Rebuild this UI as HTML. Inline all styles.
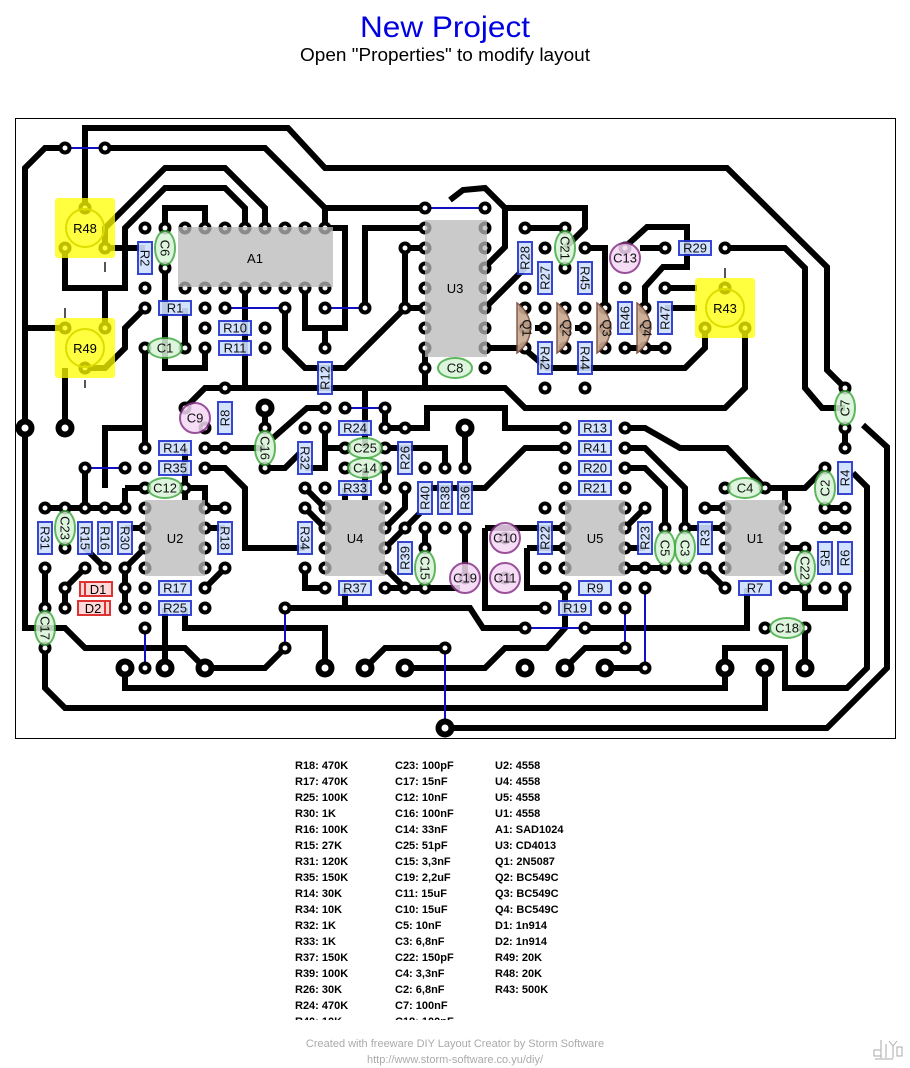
<!DOCTYPE html>
<html><head><meta charset="utf-8"><style>
html,body{margin:0;padding:0;background:#fff;width:910px;height:1068px;overflow:hidden}
svg{display:block}
.t{font-family:"Liberation Sans",sans-serif}
.b{font-family:"Liberation Sans",sans-serif;font-weight:bold;font-size:11px;fill:#000}
.tr{fill:none;stroke:#000;stroke-width:6;stroke-linejoin:miter}
.j{stroke:#1010c0;stroke-width:2}
.r rect{fill:#cfe0ff;stroke:#2233cc;stroke-width:2;opacity:.9}
.r text,.c text,.e text,.q text{font-family:"Liberation Sans",sans-serif;font-size:13px;fill:#111;text-anchor:middle;dominant-baseline:central}
.c ellipse{fill:#d8f4d8;stroke:#44aa44;stroke-width:2;opacity:.85}
.e circle{fill:#f4d8f4;stroke:#883388;stroke-width:2;opacity:.85}
.ic{fill:#b8b8b8;opacity:.75}
.pot{fill:#ffff00;opacity:.75}
.q path{fill:#c8a890;stroke:#7a4a3a;stroke-width:1.5;opacity:.9}
.ld{stroke:#555;stroke-width:2}
</style></head><body>
<svg width="910" height="1068" viewBox="0 0 910 1068" xmlns="http://www.w3.org/2000/svg">
<defs>
<g id="p"><circle r="6.5" fill="#000"/><circle r="2.5" fill="#fff"/></g>
<g id="P"><circle r="9.5" fill="#000"/><circle r="3.5" fill="#fff"/></g>
</defs>
<text x="445" y="37" class="t" font-size="30" fill="#0000e0" text-anchor="middle" textLength="170" lengthAdjust="spacingAndGlyphs">New Project</text>
<text x="445" y="61" class="t" font-size="18" fill="#000" text-anchor="middle" textLength="290" lengthAdjust="spacingAndGlyphs">Open "Properties" to modify layout</text>
<rect x="15.5" y="118.5" width="880" height="620" fill="#fff" stroke="#000" stroke-width="1"/>

<!-- traces -->
<g class="tr">
<polyline points="85,208 85,128 288,128 325,168 727,168 827,267 827,370 845,388"/>
<polyline points="65,148 45,148 25,168 25,428"/>
<polyline points="105,148 265,148 325,208 325,228"/>
<polyline points="325,208 425,208"/>
<polyline points="265,228 265,208 225,168 165,168 105,228 105,248"/>
<polyline points="245,228 245,208 225,188 165,188 125,228 125,288 65,288 65,248"/>
<polyline points="105,288 105,328"/>
<polyline points="105,248 145,248"/>
<polyline points="165,228 165,208 205,208 205,228"/>
<polyline points="325,228 345,228 345,328 305,328 305,288"/>
<polyline points="325,328 325,348"/>
<polyline points="285,308 285,348 305,368 345,368 405,308 425,308"/>
<polyline points="365,308 365,228 425,228"/>
<polyline points="405,248 425,248"/>
<polyline points="405,248 405,308"/>
<polyline points="165,268 165,368 205,368 205,348"/>
<polyline points="185,308 185,348"/>
<polyline points="145,308 125,328 125,348 105,368 85,368"/>
<polyline points="25,328 65,328"/>
<polyline points="65,368 65,428"/>
<polyline points="185,408 205,388 505,388 525,408 725,408 745,388 745,328"/>
<polyline points="245,288 245,388"/>
<polyline points="365,388 365,448"/>
<polyline points="425,348 425,388"/>
<polyline points="145,348 145,448"/>
<polyline points="105,488 105,428 145,428"/>
<polyline points="450,200 463,190 485,188 505,208 505,247 485,267"/>
<polyline points="505,208 585,208 585,228 565,248"/>
<polyline points="485,308 525,268"/>
<polyline points="485,348 520,348"/>
<polyline points="525,228 565,228"/>
<polyline points="585,248 605,248 605,303"/>
<polyline points="625,247 647,227 687,227 687,267 663,267 645,287 645,303"/>
<polyline points="640,248 665,248"/>
<polyline points="725,248 785,248 805,268 805,388 822,408 845,408"/>
<polyline points="665,288 697,288"/>
<polyline points="665,308 697,308"/>
<polyline points="535,328 545,328"/>
<polyline points="575,328 585,328"/>
<polyline points="528,352 547,368 685,368 705,348 705,328"/>
<polyline points="625,348 665,348"/>
<polyline points="265,408 265,428"/>
<polyline points="205,448 265,448"/>
<polyline points="273,438 307,408 325,408"/>
<polyline points="385,408 385,428 427,428 427,408 505,408 505,428 565,428"/>
<polyline points="325,428 325,468 305,468"/>
<polyline points="325,448 345,448"/>
<polyline points="385,448 445,448 445,468"/>
<polyline points="385,468 385,488"/>
<polyline points="265,468 285,468 300,453"/>
<polyline points="345,488 345,500"/>
<polyline points="365,468 365,500"/>
<polyline points="465,428 465,468"/>
<polyline points="430,488 485,488 525,448 565,448"/>
<polyline points="465,528 465,578"/>
<polyline points="485,528 565,528"/>
<polyline points="485,528 485,608 545,608"/>
<polyline points="527,548 565,548"/>
<polyline points="527,548 527,588 565,588"/>
<polyline points="625,528 645,508"/>
<polyline points="625,548 645,548"/>
<polyline points="625,568 665,568"/>
<polyline points="625,468 645,468 665,488 665,528"/>
<polyline points="625,448 645,448 685,488 685,528"/>
<polyline points="625,428 645,428 680,448 727,448 765,488"/>
<polyline points="705,568 725,588"/>
<polyline points="705,508 725,508"/>
<polyline points="685,528 725,528"/>
<polyline points="765,488 805,488 825,468"/>
<polyline points="785,488 785,508"/>
<polyline points="785,548 805,548"/>
<polyline points="785,588 805,588 805,608 845,608 845,588"/>
<polyline points="825,508 845,508"/>
<polyline points="825,528 845,528"/>
<polyline points="845,428 845,448"/>
<polyline points="863,425 887,447 887,668 827,728 445,728"/>
<polyline points="725,668 725,648 785,648 785,688 847,688 867,668 867,487 853,473"/>
<polyline points="85,468 85,508"/>
<polyline points="45,508 125,508"/>
<polyline points="125,488 145,488"/>
<polyline points="125,488 125,508"/>
<polyline points="125,528 145,528"/>
<polyline points="125,568 145,548"/>
<polyline points="85,548 105,568"/>
<polyline points="85,568 65,588 65,608"/>
<polyline points="125,568 125,608"/>
<polyline points="185,488 205,488 205,508"/>
<polyline points="185,448 185,500"/>
<polyline points="205,468 225,468 245,488 245,548 305,548"/>
<polyline points="205,508 225,508"/>
<polyline points="205,528 225,528"/>
<polyline points="225,568 205,588"/>
<polyline points="325,508 305,488"/>
<polyline points="305,508 325,528"/>
<polyline points="305,568 305,588 325,588"/>
<polyline points="345,588 345,608"/>
<polyline points="385,528 405,508 405,488"/>
<polyline points="385,548 420,513"/>
<polyline points="385,568 405,588"/>
<polyline points="385,588 460,588"/>
<polyline points="425,528 425,548"/>
<polyline points="45,568 45,608"/>
<polyline points="25,428 25,628 65,628 85,648 185,648 205,668 265,668 285,648"/>
<polyline points="165,608 165,668"/>
<polyline points="45,648 45,688 65,708 765,708 765,668"/>
<polyline points="125,668 125,688 725,688 725,668"/>
<polyline points="185,608 185,628 325,628 325,668"/>
<polyline points="285,608 470,608 483,628 525,628"/>
<polyline points="585,628 747,628 747,588"/>
<polyline points="565,588 565,628 547,648 505,648 485,668 405,668"/>
<polyline points="365,668 385,648 445,648"/>
<polyline points="565,668 585,648 625,648"/>
<polyline points="605,668 645,668"/>
<polyline points="805,668 805,628"/>
<polyline points="345,448 345,450"/>
</g>

<!-- jumpers -->
<g class="j">
<line x1="65" y1="148" x2="105" y2="148"/><line x1="225" y1="308" x2="285" y2="308"/>
<line x1="325" y1="308" x2="365" y2="308"/><line x1="425" y1="208" x2="485" y2="208"/>
<line x1="345" y1="408" x2="385" y2="408"/><line x1="85" y1="468" x2="125" y2="468"/>
<line x1="145" y1="628" x2="145" y2="668"/><line x1="285" y1="608" x2="285" y2="648"/>
<line x1="445" y1="648" x2="445" y2="728"/><line x1="525" y1="628" x2="585" y2="628"/>
<line x1="625" y1="608" x2="625" y2="648"/><line x1="645" y1="588" x2="645" y2="668"/>
</g>

<!-- pads -->
<g>
<use href="#p" x="65" y="148"/><use href="#p" x="105" y="148"/>
<use href="#p" x="185" y="228"/><use href="#p" x="205" y="228"/><use href="#p" x="225" y="228"/><use href="#p" x="245" y="228"/><use href="#p" x="265" y="228"/><use href="#p" x="285" y="228"/><use href="#p" x="305" y="228"/><use href="#p" x="325" y="228"/>
<use href="#p" x="185" y="288"/><use href="#p" x="205" y="288"/><use href="#p" x="225" y="288"/><use href="#p" x="245" y="288"/><use href="#p" x="265" y="288"/><use href="#p" x="285" y="288"/><use href="#p" x="305" y="288"/><use href="#p" x="325" y="288"/>
<use href="#p" x="145" y="228"/><use href="#p" x="165" y="228"/><use href="#p" x="145" y="288"/><use href="#p" x="165" y="268"/>
<use href="#p" x="145" y="308"/><use href="#p" x="205" y="308"/><use href="#p" x="225" y="308"/><use href="#p" x="285" y="308"/><use href="#p" x="325" y="308"/><use href="#p" x="365" y="308"/>
<use href="#p" x="205" y="328"/><use href="#p" x="265" y="328"/><use href="#p" x="205" y="348"/><use href="#p" x="265" y="348"/><use href="#p" x="145" y="348"/><use href="#p" x="185" y="348"/>
<use href="#p" x="325" y="348"/><use href="#p" x="325" y="408"/><use href="#p" x="345" y="408"/><use href="#p" x="385" y="408"/>
<use href="#p" x="425" y="208"/><use href="#p" x="485" y="208"/>
<use href="#p" x="425" y="228"/><use href="#p" x="425" y="248"/><use href="#p" x="425" y="268"/><use href="#p" x="425" y="288"/><use href="#p" x="425" y="308"/><use href="#p" x="425" y="328"/><use href="#p" x="425" y="348"/>
<use href="#p" x="485" y="228"/><use href="#p" x="485" y="248"/><use href="#p" x="485" y="268"/><use href="#p" x="485" y="288"/><use href="#p" x="485" y="308"/><use href="#p" x="485" y="328"/><use href="#p" x="485" y="348"/>
<use href="#p" x="485" y="368"/><use href="#p" x="425" y="368"/><use href="#p" x="405" y="248"/><use href="#p" x="405" y="308"/>
<use href="#p" x="525" y="228"/><use href="#p" x="565" y="228"/><use href="#p" x="525" y="288"/><use href="#p" x="545" y="248"/><use href="#p" x="545" y="308"/><use href="#p" x="565" y="268"/><use href="#p" x="585" y="248"/><use href="#p" x="585" y="308"/><use href="#p" x="625" y="288"/><use href="#p" x="625" y="348"/><use href="#p" x="665" y="248"/><use href="#p" x="725" y="248"/><use href="#p" x="665" y="288"/><use href="#p" x="665" y="348"/><use href="#p" x="545" y="328"/><use href="#p" x="585" y="328"/><use href="#p" x="545" y="388"/><use href="#p" x="585" y="388"/>
<use href="#p" x="525" y="308"/><use href="#p" x="525" y="328"/><use href="#p" x="525" y="348"/><use href="#p" x="565" y="308"/><use href="#p" x="565" y="328"/><use href="#p" x="565" y="348"/><use href="#p" x="605" y="308"/><use href="#p" x="605" y="328"/><use href="#p" x="605" y="348"/><use href="#p" x="645" y="308"/><use href="#p" x="645" y="328"/><use href="#p" x="645" y="348"/>
<use href="#p" x="725" y="288"/><use href="#p" x="705" y="328"/><use href="#p" x="745" y="328"/>
<use href="#p" x="85" y="208"/><use href="#p" x="65" y="248"/><use href="#p" x="105" y="248"/>
<use href="#p" x="65" y="328"/><use href="#p" x="105" y="328"/><use href="#p" x="85" y="368"/>
<use href="#p" x="185" y="408"/><use href="#p" x="205" y="428"/><use href="#p" x="225" y="388"/><use href="#p" x="225" y="448"/><use href="#p" x="205" y="448"/><use href="#p" x="145" y="448"/><use href="#p" x="145" y="468"/><use href="#p" x="205" y="468"/><use href="#p" x="265" y="428"/><use href="#p" x="265" y="468"/>
<use href="#p" x="325" y="428"/><use href="#p" x="385" y="428"/><use href="#p" x="405" y="428"/><use href="#p" x="305" y="428"/><use href="#p" x="305" y="488"/><use href="#p" x="345" y="448"/><use href="#p" x="385" y="448"/><use href="#p" x="345" y="468"/><use href="#p" x="385" y="468"/><use href="#p" x="325" y="488"/><use href="#p" x="385" y="488"/><use href="#p" x="405" y="488"/>
<use href="#p" x="425" y="468"/><use href="#p" x="445" y="468"/><use href="#p" x="465" y="468"/><use href="#p" x="425" y="528"/><use href="#p" x="445" y="528"/><use href="#p" x="465" y="528"/>
<use href="#p" x="565" y="428"/><use href="#p" x="625" y="428"/><use href="#p" x="565" y="448"/><use href="#p" x="625" y="448"/><use href="#p" x="565" y="468"/><use href="#p" x="625" y="468"/><use href="#p" x="565" y="488"/><use href="#p" x="625" y="488"/>
<use href="#p" x="85" y="468"/><use href="#p" x="125" y="468"/><use href="#p" x="145" y="488"/><use href="#p" x="185" y="488"/>
<use href="#p" x="45" y="508"/><use href="#p" x="65" y="508"/><use href="#p" x="85" y="508"/><use href="#p" x="105" y="508"/><use href="#p" x="125" y="508"/><use href="#p" x="225" y="508"/>
<use href="#p" x="45" y="568"/><use href="#p" x="85" y="568"/><use href="#p" x="105" y="568"/><use href="#p" x="125" y="568"/><use href="#p" x="65" y="548"/><use href="#p" x="225" y="568"/>
<use href="#p" x="145" y="508"/><use href="#p" x="145" y="528"/><use href="#p" x="145" y="548"/><use href="#p" x="145" y="568"/><use href="#p" x="205" y="508"/><use href="#p" x="205" y="528"/><use href="#p" x="205" y="548"/><use href="#p" x="205" y="568"/>
<use href="#p" x="325" y="508"/><use href="#p" x="325" y="528"/><use href="#p" x="325" y="548"/><use href="#p" x="325" y="568"/><use href="#p" x="385" y="508"/><use href="#p" x="385" y="528"/><use href="#p" x="385" y="548"/><use href="#p" x="385" y="568"/>
<use href="#p" x="565" y="508"/><use href="#p" x="565" y="528"/><use href="#p" x="565" y="548"/><use href="#p" x="565" y="568"/><use href="#p" x="625" y="508"/><use href="#p" x="625" y="528"/><use href="#p" x="625" y="548"/><use href="#p" x="625" y="568"/>
<use href="#p" x="725" y="508"/><use href="#p" x="725" y="528"/><use href="#p" x="725" y="548"/><use href="#p" x="725" y="568"/><use href="#p" x="785" y="508"/><use href="#p" x="785" y="528"/><use href="#p" x="785" y="548"/><use href="#p" x="785" y="568"/>
<use href="#p" x="305" y="508"/><use href="#p" x="305" y="568"/><use href="#p" x="405" y="528"/><use href="#p" x="405" y="588"/><use href="#p" x="425" y="548"/><use href="#p" x="425" y="588"/>
<use href="#p" x="325" y="588"/><use href="#p" x="385" y="588"/><use href="#p" x="145" y="588"/><use href="#p" x="205" y="588"/><use href="#p" x="145" y="608"/><use href="#p" x="205" y="608"/><use href="#p" x="65" y="588"/><use href="#p" x="125" y="588"/><use href="#p" x="65" y="608"/><use href="#p" x="125" y="608"/>
<use href="#p" x="45" y="608"/><use href="#p" x="45" y="648"/><use href="#p" x="145" y="628"/><use href="#p" x="145" y="668"/><use href="#p" x="285" y="608"/><use href="#p" x="285" y="648"/>
<use href="#p" x="545" y="508"/><use href="#p" x="545" y="568"/><use href="#p" x="645" y="508"/><use href="#p" x="645" y="568"/><use href="#p" x="665" y="528"/><use href="#p" x="665" y="568"/><use href="#p" x="685" y="528"/><use href="#p" x="685" y="568"/><use href="#p" x="705" y="508"/><use href="#p" x="705" y="568"/>
<use href="#p" x="565" y="588"/><use href="#p" x="625" y="588"/><use href="#p" x="545" y="608"/><use href="#p" x="605" y="608"/><use href="#p" x="625" y="608"/><use href="#p" x="585" y="628"/><use href="#p" x="525" y="628"/><use href="#p" x="625" y="648"/><use href="#p" x="645" y="588"/><use href="#p" x="645" y="668"/>
<use href="#p" x="725" y="488"/><use href="#p" x="765" y="488"/><use href="#p" x="725" y="588"/><use href="#p" x="785" y="588"/><use href="#p" x="765" y="628"/><use href="#p" x="805" y="628"/>
<use href="#p" x="825" y="468"/><use href="#p" x="825" y="508"/><use href="#p" x="845" y="448"/><use href="#p" x="845" y="508"/><use href="#p" x="825" y="528"/><use href="#p" x="845" y="528"/><use href="#p" x="825" y="588"/><use href="#p" x="845" y="588"/><use href="#p" x="805" y="548"/><use href="#p" x="805" y="588"/>
<use href="#p" x="845" y="388"/><use href="#p" x="845" y="428"/><use href="#p" x="445" y="648"/><use href="#p" x="465" y="578"/><use href="#p" x="505" y="538"/><use href="#p" x="505" y="578"/><use href="#p" x="625" y="248"/>
<use href="#P" x="25" y="428"/><use href="#P" x="65" y="428"/><use href="#P" x="265" y="408"/><use href="#P" x="465" y="428"/><use href="#P" x="125" y="668"/><use href="#P" x="165" y="668"/><use href="#P" x="205" y="668"/><use href="#P" x="325" y="668"/><use href="#P" x="365" y="668"/><use href="#P" x="405" y="668"/><use href="#P" x="525" y="668"/><use href="#P" x="565" y="668"/><use href="#P" x="605" y="668"/><use href="#P" x="725" y="668"/><use href="#P" x="765" y="668"/><use href="#P" x="805" y="668"/><use href="#P" x="445" y="728"/>
</g>

<!-- pots -->
<g>
<rect class="pot" x="55" y="198" width="60" height="60" rx="3"/><circle cx="85" cy="228" r="19" fill="none" stroke="#dddd00" stroke-width="2"/><text x="85" y="233" class="t" font-size="13" text-anchor="middle">R48</text><line x1="105" y1="262" x2="105" y2="272" class="ld"/>
<rect class="pot" x="55" y="318" width="60" height="60" rx="3"/><circle cx="85" cy="348" r="19" fill="none" stroke="#dddd00" stroke-width="2"/><text x="85" y="353" class="t" font-size="13" text-anchor="middle">R49</text><line x1="65" y1="308" x2="65" y2="318" class="ld"/><line x1="85" y1="380" x2="85" y2="388" class="ld"/>
<rect class="pot" x="695" y="278" width="60" height="60" rx="3"/><circle cx="725" cy="308" r="19" fill="none" stroke="#dddd00" stroke-width="2"/><text x="725" y="313" class="t" font-size="13" text-anchor="middle">R43</text><line x1="725" y1="268" x2="725" y2="278" class="ld"/>
</g>

<!-- ICs -->
<g>
<rect class="ic" x="178" y="227" width="155" height="60"/><text x="255" y="263" class="t" font-size="13" text-anchor="middle">A1</text>
<rect class="ic" x="425" y="220" width="62" height="137"/><text x="455" y="293" class="t" font-size="13" text-anchor="middle">U3</text>
<rect class="ic" x="145" y="500" width="60" height="76"/><text x="175" y="543" class="t" font-size="13" text-anchor="middle">U2</text>
<rect class="ic" x="325" y="500" width="60" height="76"/><text x="355" y="543" class="t" font-size="13" text-anchor="middle">U4</text>
<rect class="ic" x="565" y="500" width="60" height="76"/><text x="595" y="543" class="t" font-size="13" text-anchor="middle">U5</text>
<rect class="ic" x="725" y="500" width="60" height="76"/><text x="755" y="543" class="t" font-size="13" text-anchor="middle">U1</text>
</g>

<!-- transistors -->
<g class="q">
<g transform="translate(525,328)"><path d="M-8,-25 A30,30 0 0 1 -8,25 Z"/><text transform="rotate(90)" x="0" y="-2">Q1</text></g>
<g transform="translate(565,328)"><path d="M-8,-25 A30,30 0 0 1 -8,25 Z"/><text transform="rotate(90)" x="0" y="-2">Q2</text></g>
<g transform="translate(605,328)"><path d="M-8,-25 A30,30 0 0 1 -8,25 Z"/><text transform="rotate(90)" x="0" y="-2">Q3</text></g>
<g transform="translate(645,328)"><path d="M-8,-25 A30,30 0 0 1 -8,25 Z"/><text transform="rotate(90)" x="0" y="-2">Q4</text></g>
</g>

<!-- diodes -->
<g>
<rect x="80" y="582" width="32" height="14" fill="#ffd8d8" stroke="#dd3333" stroke-width="2"/><line x1="85" y1="582" x2="85" y2="596" stroke="#dd3333" stroke-width="2"/><text x="98" y="594" class="t" font-size="13" text-anchor="middle">D1</text>
<rect x="78" y="601" width="32" height="14" fill="#ffd8d8" stroke="#dd3333" stroke-width="2"/><line x1="105" y1="601" x2="105" y2="615" stroke="#dd3333" stroke-width="2"/><text x="93" y="613" class="t" font-size="13" text-anchor="middle">D2</text>
</g>

<!-- horizontal resistors -->
<g class="r">
<g transform="translate(175,308)"><rect x="-16" y="-7" width="32" height="14"/><text>R1</text></g>
<g transform="translate(235,328)"><rect x="-16" y="-7" width="32" height="14"/><text>R10</text></g>
<g transform="translate(235,348)"><rect x="-16" y="-7" width="32" height="14"/><text>R11</text></g>
<g transform="translate(175,448)"><rect x="-16" y="-7" width="32" height="14"/><text>R14</text></g>
<g transform="translate(175,468)"><rect x="-16" y="-7" width="32" height="14"/><text>R35</text></g>
<g transform="translate(355,428)"><rect x="-16" y="-7" width="32" height="14"/><text>R24</text></g>
<g transform="translate(355,488)"><rect x="-16" y="-7" width="32" height="14"/><text>R33</text></g>
<g transform="translate(595,428)"><rect x="-16" y="-7" width="32" height="14"/><text>R13</text></g>
<g transform="translate(595,448)"><rect x="-16" y="-7" width="32" height="14"/><text>R41</text></g>
<g transform="translate(595,468)"><rect x="-16" y="-7" width="32" height="14"/><text>R20</text></g>
<g transform="translate(595,488)"><rect x="-16" y="-7" width="32" height="14"/><text>R21</text></g>
<g transform="translate(175,588)"><rect x="-16" y="-7" width="32" height="14"/><text>R17</text></g>
<g transform="translate(175,608)"><rect x="-16" y="-7" width="32" height="14"/><text>R25</text></g>
<g transform="translate(355,588)"><rect x="-16" y="-7" width="32" height="14"/><text>R37</text></g>
<g transform="translate(595,588)"><rect x="-16" y="-7" width="32" height="14"/><text>R9</text></g>
<g transform="translate(575,608)"><rect x="-16" y="-7" width="32" height="14"/><text>R19</text></g>
<g transform="translate(755,588)"><rect x="-16" y="-7" width="32" height="14"/><text>R7</text></g>
<g transform="translate(695,248)"><rect x="-16" y="-7" width="32" height="14"/><text>R29</text></g>
</g>
<!-- vertical resistors -->
<g class="r">
<g transform="translate(145,258) rotate(90)"><rect x="-16" y="-7" width="32" height="14"/><text>R2</text></g>
<g transform="translate(325,378) rotate(-90)"><rect x="-16" y="-7" width="32" height="14"/><text>R12</text></g>
<g transform="translate(225,418) rotate(-90)"><rect x="-16" y="-7" width="32" height="14"/><text>R8</text></g>
<g transform="translate(305,458) rotate(90)"><rect x="-16" y="-7" width="32" height="14"/><text>R32</text></g>
<g transform="translate(405,458) rotate(-90)"><rect x="-16" y="-7" width="32" height="14"/><text>R26</text></g>
<g transform="translate(425,498) rotate(-90)"><rect x="-16" y="-7" width="32" height="14"/><text>R40</text></g>
<g transform="translate(445,498) rotate(-90)"><rect x="-16" y="-7" width="32" height="14"/><text>R38</text></g>
<g transform="translate(465,498) rotate(-90)"><rect x="-16" y="-7" width="32" height="14"/><text>R36</text></g>
<g transform="translate(45,538) rotate(90)"><rect x="-16" y="-7" width="32" height="14"/><text>R31</text></g>
<g transform="translate(85,538) rotate(90)"><rect x="-16" y="-7" width="32" height="14"/><text>R15</text></g>
<g transform="translate(105,538) rotate(90)"><rect x="-16" y="-7" width="32" height="14"/><text>R16</text></g>
<g transform="translate(125,538) rotate(90)"><rect x="-16" y="-7" width="32" height="14"/><text>R30</text></g>
<g transform="translate(225,538) rotate(90)"><rect x="-16" y="-7" width="32" height="14"/><text>R18</text></g>
<g transform="translate(305,538) rotate(90)"><rect x="-16" y="-7" width="32" height="14"/><text>R34</text></g>
<g transform="translate(405,558) rotate(-90)"><rect x="-16" y="-7" width="32" height="14"/><text>R39</text></g>
<g transform="translate(545,538) rotate(-90)"><rect x="-16" y="-7" width="32" height="14"/><text>R22</text></g>
<g transform="translate(645,538) rotate(-90)"><rect x="-16" y="-7" width="32" height="14"/><text>R23</text></g>
<g transform="translate(705,538) rotate(-90)"><rect x="-16" y="-7" width="32" height="14"/><text>R3</text></g>
<g transform="translate(825,558) rotate(90)"><rect x="-16" y="-7" width="32" height="14"/><text>R5</text></g>
<g transform="translate(845,558) rotate(-90)"><rect x="-16" y="-7" width="32" height="14"/><text>R6</text></g>
<g transform="translate(845,478) rotate(-90)"><rect x="-16" y="-7" width="32" height="14"/><text>R4</text></g>
<g transform="translate(525,258) rotate(-90)"><rect x="-16" y="-7" width="32" height="14"/><text>R28</text></g>
<g transform="translate(545,278) rotate(-90)"><rect x="-16" y="-7" width="32" height="14"/><text>R27</text></g>
<g transform="translate(585,278) rotate(90)"><rect x="-16" y="-7" width="32" height="14"/><text>R45</text></g>
<g transform="translate(545,358) rotate(90)"><rect x="-16" y="-7" width="32" height="14"/><text>R42</text></g>
<g transform="translate(585,358) rotate(90)"><rect x="-16" y="-7" width="32" height="14"/><text>R44</text></g>
<g transform="translate(625,318) rotate(-90)"><rect x="-16" y="-7" width="32" height="14"/><text>R46</text></g>
<g transform="translate(665,318) rotate(-90)"><rect x="-16" y="-7" width="32" height="14"/><text>R47</text></g>
</g>

<!-- capacitors -->
<g class="c">
<g transform="translate(165,248) rotate(90)"><ellipse rx="17" ry="10"/><text>C6</text></g>
<g transform="translate(165,348)"><ellipse rx="17" ry="10"/><text>C1</text></g>
<g transform="translate(455,368)"><ellipse rx="17" ry="10"/><text>C8</text></g>
<g transform="translate(565,248) rotate(90)"><ellipse rx="17" ry="10"/><text>C21</text></g>
<g transform="translate(845,408) rotate(-90)"><ellipse rx="17" ry="10"/><text>C7</text></g>
<g transform="translate(265,448) rotate(90)"><ellipse rx="17" ry="10"/><text>C16</text></g>
<g transform="translate(365,448)"><ellipse rx="17" ry="10"/><text>C25</text></g>
<g transform="translate(365,468)"><ellipse rx="17" ry="10"/><text>C14</text></g>
<g transform="translate(165,488)"><ellipse rx="17" ry="10"/><text>C12</text></g>
<g transform="translate(65,528) rotate(90)"><ellipse rx="17" ry="10"/><text>C23</text></g>
<g transform="translate(425,568) rotate(90)"><ellipse rx="17" ry="10"/><text>C15</text></g>
<g transform="translate(45,628) rotate(90)"><ellipse rx="17" ry="10"/><text>C17</text></g>
<g transform="translate(745,488)"><ellipse rx="17" ry="10"/><text>C4</text></g>
<g transform="translate(825,488) rotate(-90)"><ellipse rx="17" ry="10"/><text>C2</text></g>
<g transform="translate(665,548) rotate(90)"><ellipse rx="17" ry="10"/><text>C5</text></g>
<g transform="translate(685,548) rotate(90)"><ellipse rx="17" ry="10"/><text>C3</text></g>
<g transform="translate(805,568) rotate(90)"><ellipse rx="17" ry="10"/><text>C22</text></g>
<g transform="translate(787,628)"><ellipse rx="17" ry="10"/><text>C18</text></g>
</g>
<g class="e">
<g transform="translate(195,418)"><circle r="15"/><text>C9</text></g>
<g transform="translate(625,258)"><circle r="15"/><text>C13</text></g>
<g transform="translate(505,538)"><circle r="15"/><text>C10</text></g>
<g transform="translate(505,578)"><circle r="15"/><text>C11</text></g>
<g transform="translate(465,578)"><circle r="15"/><text>C19</text></g>
</g>

<!-- BOM -->
<g class="b">
<text x="295" y="769">R18: 470K</text><text x="295" y="785">R17: 470K</text><text x="295" y="801">R25: 100K</text><text x="295" y="817">R30: 1K</text><text x="295" y="833">R16: 100K</text><text x="295" y="849">R15: 27K</text><text x="295" y="865">R31: 120K</text><text x="295" y="881">R35: 150K</text><text x="295" y="897">R14: 30K</text><text x="295" y="913">R34: 10K</text><text x="295" y="929">R32: 1K</text><text x="295" y="945">R33: 1K</text><text x="295" y="961">R37: 150K</text><text x="295" y="977">R39: 100K</text><text x="295" y="993">R26: 30K</text><text x="295" y="1009">R24: 470K</text><text x="295" y="1025">R40: 10K</text>
<text x="395" y="769">C23: 100pF</text><text x="395" y="785">C17: 15nF</text><text x="395" y="801">C12: 10nF</text><text x="395" y="817">C16: 100nF</text><text x="395" y="833">C14: 33nF</text><text x="395" y="849">C25: 51pF</text><text x="395" y="865">C15: 3,3nF</text><text x="395" y="881">C19: 2,2uF</text><text x="395" y="897">C11: 15uF</text><text x="395" y="913">C10: 15uF</text><text x="395" y="929">C5: 10nF</text><text x="395" y="945">C3: 6,8nF</text><text x="395" y="961">C22: 150pF</text><text x="395" y="977">C4: 3,3nF</text><text x="395" y="993">C2: 6,8nF</text><text x="395" y="1009">C7: 100nF</text><text x="395" y="1025">C18: 100nF</text>
<text x="495" y="769">U2: 4558</text><text x="495" y="785">U4: 4558</text><text x="495" y="801">U5: 4558</text><text x="495" y="817">U1: 4558</text><text x="495" y="833">A1: SAD1024</text><text x="495" y="849">U3: CD4013</text><text x="495" y="865">Q1: 2N5087</text><text x="495" y="881">Q2: BC549C</text><text x="495" y="897">Q3: BC549C</text><text x="495" y="913">Q4: BC549C</text><text x="495" y="929">D1: 1n914</text><text x="495" y="945">D2: 1n914</text><text x="495" y="961">R49: 20K</text><text x="495" y="977">R48: 20K</text><text x="495" y="993">R43: 500K</text>
</g>
<rect x="280" y="1020" width="400" height="12" fill="#fff"/>
<text x="455" y="1047" class="t" font-size="11" fill="#aaa" text-anchor="middle">Created with freeware DIY Layout Creator by Storm Software</text>
<text x="455" y="1063" class="t" font-size="11" fill="#aaa" text-anchor="middle">http://www.storm-software.co.yu/diy/</text>
<g stroke="#aaa" stroke-width="1" fill="none"><rect x="874" y="1050" width="7" height="6"/><line x1="881" y1="1040" x2="881" y2="1058"/><line x1="875" y1="1059" x2="893" y2="1059"/><line x1="886" y1="1044" x2="886" y2="1058"/><path d="M889,1041 L893,1046 L897,1041 M893,1046 L893,1058"/><rect x="897" y="1047" width="5" height="9"/></g>
</svg>
</body></html>
